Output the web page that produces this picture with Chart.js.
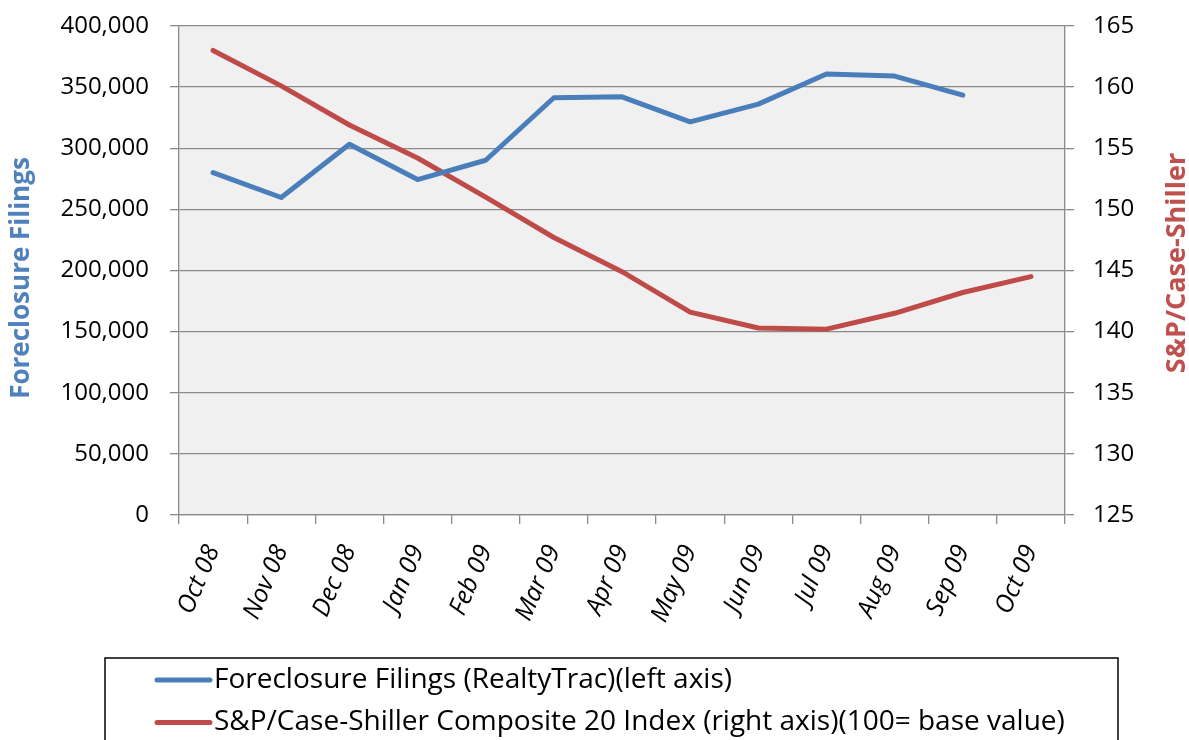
<!DOCTYPE html>
<html>
<head>
<meta charset="utf-8">
<script src="https://cdn.jsdelivr.net/npm/chart.js@4.4.0/dist/chart.umd.min.js"></script>
<style>
  body { margin: 0; background: #fff; }
  canvas { display: block; }
</style>
</head>
<body>
<canvas id="chart" width="1189" height="740"></canvas>
<script>
const months = [
  "Oct 08", "Nov 08", "Dec 08", "Jan 09", "Feb 09", "Mar 09", "Apr 09",
  "May 09", "Jun 09", "Jul 09", "Aug 09", "Sep 09", "Oct 09",
];
const foreclosureFilings = [
  280000, 259700, 303300, 274400, 290200, 341300, 342100,
  321600, 336100, 360700, 359000, 343500, null,
];
const caseShiller = [
  163.0, 160.1, 156.9, 154.2, 151.0, 147.7, 144.9,
  141.6, 140.3, 140.2, 141.5, 143.2, 144.5,
];
// min, max, step
const leftAxisRange = [0, 400000, 50000];
const rightAxisRange = [125, 165, 5];

const seriesNames = [
  "Foreclosure Filings (RealtyTrac)(left axis)",
  "S&P/Case-Shiller Composite 20 Index (right axis)(100= base value)",
];
const leftTitle = "Foreclosure Filings";
const rightTitle = "S&P/Case-Shiller";

const blue = "#4a7ebb";
const red = "#be4b48";
const gridColor = "#8a8a8a";
const fontFamily = "'Open Sans', Lato, sans-serif";

const plotBackground = {
  id: "plotBackground",
  beforeDraw(chart) {
    const { ctx, chartArea } = chart;
    ctx.save();
    ctx.fillStyle = "#f0f0f0";
    ctx.fillRect(chartArea.left, chartArea.top,
      chartArea.right - chartArea.left, chartArea.bottom - chartArea.top);
    ctx.restore();
  },
};

function drawVerticalTitle(ctx, text, x, y, size, color) {
  ctx.save();
  ctx.translate(x, y);
  ctx.rotate(-Math.PI / 2);
  ctx.font = "bold " + size + "px " + fontFamily;
  ctx.fillStyle = color;
  ctx.textAlign = "center";
  ctx.textBaseline = "middle";
  ctx.fillText(text, 0, 0);
  ctx.restore();
}

// axis titles (both read bottom-to-top) and the boxed legend under the axis
const extras = {
  id: "extras",
  afterDraw(chart) {
    const ctx = chart.ctx;
    drawVerticalTitle(ctx, leftTitle, 22, 278, 26, "#4f81bd");
    drawVerticalTitle(ctx, rightTitle, 1177, 263, 27, "#c0504d");

    ctx.save();
    ctx.strokeStyle = "#000";
    ctx.lineWidth = 1.5;
    ctx.strokeRect(105, 658, 1013, 100);
    ctx.font = "28px " + fontFamily;
    ctx.textBaseline = "middle";
    chart.data.datasets.forEach((ds, i) => {
      const y = 680 + i * 42.5;
      ctx.strokeStyle = ds.borderColor;
      ctx.lineWidth = 5;
      ctx.lineCap = "round";
      ctx.beginPath();
      ctx.moveTo(157, y);
      ctx.lineTo(210, y);
      ctx.stroke();
      ctx.fillStyle = "#000";
      ctx.fillText(ds.label, 214, y);
    });
    ctx.restore();
  },
};

// keep the tick-label padding from pushing the plot area down
function noEdgePadding(scale) {
  scale.paddingTop = 0;
  scale.paddingBottom = 0;
}

const ctx = document.getElementById("chart");

let chart = new Chart(ctx, {
  type: "line",
  plugins: [plotBackground, extras],
  data: {
    labels: months,
    datasets: [
      {
        label: seriesNames[0],
        data: foreclosureFilings,
        yAxisID: "y",
        borderColor: blue,
        backgroundColor: blue,
        borderWidth: 5,
        pointRadius: 0,
        tension: 0,
        borderJoinStyle: "round",
        borderCapStyle: "round",
        fill: false,
      },
      {
        label: seriesNames[1],
        data: caseShiller,
        yAxisID: "y1",
        borderColor: red,
        backgroundColor: red,
        borderWidth: 5,
        pointRadius: 0,
        tension: 0,
        borderJoinStyle: "round",
        borderCapStyle: "round",
        fill: false,
      },
    ],
  },
  options: {
    responsive: false,
    animation: false,
    layout: { padding: { top: 26, bottom: 95, left: 0, right: 0 } },
    plugins: {
      legend: { display: false },
      tooltip: { enabled: false },
    },
    scales: {
      x: {
        type: "category",
        offset: true,
        grid: {
          offset: true,
          drawOnChartArea: false,
          drawTicks: true,
          tickLength: 9,
          color: gridColor,
          lineWidth: 1.3,
        },
        border: { display: true, color: gridColor, width: 1.3 },
        ticks: {
          color: "#000",
          font: { family: fontFamily, size: 25, style: "italic" },
          minRotation: 67,
          maxRotation: 67,
          padding: 17,
          autoSkip: false,
        },
        afterFit(scale) {
          scale.height = 130;
        },
      },
      y: {
        position: "left",
        min: leftAxisRange[0],
        max: leftAxisRange[1],
        grid: {
          color: gridColor,
          lineWidth: 1.3,
          drawTicks: true,
          tickLength: 9,
        },
        border: { display: true, color: gridColor, width: 1.3 },
        ticks: {
          stepSize: leftAxisRange[2],
          color: "#000",
          padding: 21,
          font: { family: fontFamily, size: 24 },
          callback: (v) => v.toLocaleString("en-US"),
        },
        afterFit(scale) {
          scale.width = 179;
          noEdgePadding(scale);
        },
      },
      y1: {
        position: "right",
        min: rightAxisRange[0],
        max: rightAxisRange[1],
        grid: {
          drawOnChartArea: false,
          drawTicks: true,
          tickLength: 9,
          color: gridColor,
          lineWidth: 1.3,
        },
        border: { display: true, color: gridColor, width: 1.3 },
        ticks: {
          stepSize: rightAxisRange[2],
          color: "#000",
          padding: 19,
          font: { family: fontFamily, size: 24 },
        },
        afterFit(scale) {
          scale.width = 124;
          noEdgePadding(scale);
        },
      },
    },
  },
});
</script>
</body>
</html>
